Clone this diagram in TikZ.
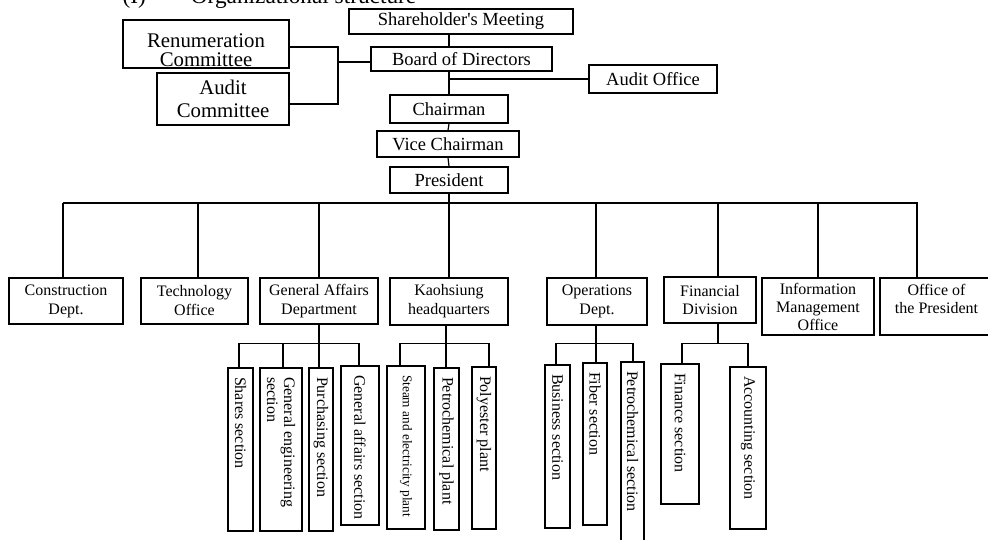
\documentclass[tikz,border=0pt]{standalone}
\usepackage{fontspec}
\setmainfont{Liberation Serif}

\begin{document}
\begin{tikzpicture}[x=1pt, y=-1pt, line width=1.2pt,
  unit/.style={draw, inner sep=0pt, align=center, font=\fontsize{16}{19}\selectfont},
  topunit/.style={unit, font=\fontsize{18.5}{22}\selectfont},
  committee/.style={unit, font=\fontsize{20.8}{23}\selectfont},
  vsec/.style={draw, rotate=-90, inner xsep=9pt, inner ysep=0pt, align=flush left,
    font=\fontsize{16}{17}\selectfont}]

  \useasboundingbox (0,0) rectangle (988,539);

  \node[anchor=base west, inner sep=0pt, font=\fontsize{23.3}{28}\selectfont] (title)
    at (122,3.5) {(I)\hspace{45pt}Organizational structure};

  % board level
  \node[topunit, minimum width=224pt, minimum height=25pt] (share) at (461,21.5) {Shareholder\textquotesingle s Meeting};
  \node[topunit, minimum width=181pt, minimum height=24pt] (board) at (461.5,59) {Board of Directors};
  \node[committee, minimum width=166pt, minimum height=48pt, font=\fontsize{20.8}{19.5}\selectfont] (renum)
    at (206,44) {\rule{0pt}{26pt}Renumeration\\Committee};
  \node[committee, minimum width=132pt, minimum height=52pt] (audc) at (223,99) {Audit\\Committee};
  \node[topunit, minimum width=128pt, minimum height=28pt] (audo) at (653,79) {Audit Office};
  \node[topunit, minimum width=118pt, minimum height=28pt] (chair) at (449,109) {Chairman};
  \node[topunit, minimum width=142pt, minimum height=26pt] (vice) at (448,144) {Vice Chairman};
  \node[topunit, minimum width=118pt, minimum height=26pt] (pres) at (449,180) {President};

  % departments
  \node[unit, minimum width=114pt, minimum height=46pt] (cons) at (66,301) {Construction\\Dept.};
  \node[unit, minimum width=107pt, minimum height=46pt] (tech) at (194.5,301) {Technology\\Office};
  \node[unit, minimum width=118pt, minimum height=46pt] (gad) at (319,301) {General Affairs\\Department};
  \node[unit, minimum width=118pt, minimum height=47pt] (kao) at (449,301.5) {Kaohsiung\\headquarters};
  \node[unit, minimum width=100pt, minimum height=47pt] (ops) at (597,301.5) {Operations\\Dept.};
  \node[unit, minimum width=92pt, minimum height=46pt, font=\fontsize{16}{18.5}\selectfont] (fin)
    at (710,300) {Financial\\Division};
  \node[unit, minimum width=112pt, minimum height=57pt, font=\fontsize{16}{18}\selectfont] (imo)
    at (818,306.5) {Information\\Management\\Office};
  \node[unit, minimum width=113pt, minimum height=57pt, font=\fontsize{16}{18}\selectfont] (opres)
    at (936.5,306.5) {Office of\\the President\rule[-15pt]{0pt}{0pt}};

  % sections, written top to bottom
  \foreach \nm/\xa/\xb/\ya/\yb/\txt in {
      shares/228/253/368/531/{Shares section},
      geneng/260/302/368/531/{General engineering\\section},
      purch/309/333/368/531/{Purchasing section},
      gaff/341/379/366/525/{\mbox{General affairs section}},
      steam/387/425/366/529/{\fontsize{13.3}{15}\selectfont\mbox{Steam and electricity plant}},
      petro/434/459/368/530/{Petrochemical plant},
      poly/472/496/367/529/{Polyester plant},
      busi/545/570/365/528/{Business section},
      fiber/583/607/363/525/{Fiber section},
      petsec/621/644/362/560/{Petrochemical section},
      finsec/661/699/364/504/{Finance section},
      acct/730/766/367/529/{Accounting section}} {
    \pgfmathsetmacro{\secw}{\xb-\xa}
    \pgfmathsetmacro{\secl}{\yb-\ya-18}
    \node[vsec, minimum height=\secw pt, text width=\secl pt] (\nm)
      at ({(\xa+\xb)/2},{(\ya+\yb)/2}) {\txt};
  }

  % top chain
  \draw (share.south -| chair.north) -- (board.north -| chair.north);
  \draw (board.south -| chair.north) -- (chair.north);
  \draw (audo.west -| chair.north) -- (audo.west);
  \draw (chair.south) -- (vice.north);
  \draw (vice.south) -- (pres.north);
  \draw (pres.south) -- (kao.north);

  \coordinate (brk) at (338,62);
  \draw ([yshift=-3pt]renum.east) -| (brk) |- ([yshift=-5pt]audc.east);
  \draw (brk) -- (brk -| board.west);

  % department bus
  \coordinate (bus) at (63,203);
  \foreach \nm/\dx in {cons/-3,tech/3.5,gad/0,ops/-1,fin/8,imo/0,opres/-19.5}
    \draw ([xshift=\dx pt]\nm.north) |- (bus);

  % section buses
  \coordinate (gabus) at ([yshift=-19pt]gad.south);
  \draw (gad.south) -- (gabus);
  \foreach \nm/\dx in {shares/-1.5,geneng/2,purch/-2,gaff/-1}
    \draw ([xshift=\dx pt]\nm.west) |- (gabus);

  \coordinate (kbus) at ([xshift=-3pt,yshift=-18pt]kao.south);
  \draw ([xshift=-3pt]kao.south) -- (kbus);
  \foreach \nm/\dx in {steam/-6,petro/-0.5,poly/5}
    \draw ([xshift=\dx pt]\nm.west) |- (kbus);

  \coordinate (obus) at ([xshift=-1pt,yshift=-18pt]ops.south);
  \draw ([xshift=-1pt]ops.south) -- (obus);
  \foreach \nm/\dx in {busi/-1.5,fiber/1,petsec/0.5}
    \draw ([xshift=\dx pt]\nm.west) |- (obus);

  \coordinate (fbus) at ([xshift=8pt,yshift=-20pt]fin.south);
  \draw ([xshift=8pt]fin.south) -- (fbus);
  \foreach \nm/\dx in {finsec/2,acct/0}
    \draw ([xshift=\dx pt]\nm.west) |- (fbus);

\end{tikzpicture}
\end{document}
